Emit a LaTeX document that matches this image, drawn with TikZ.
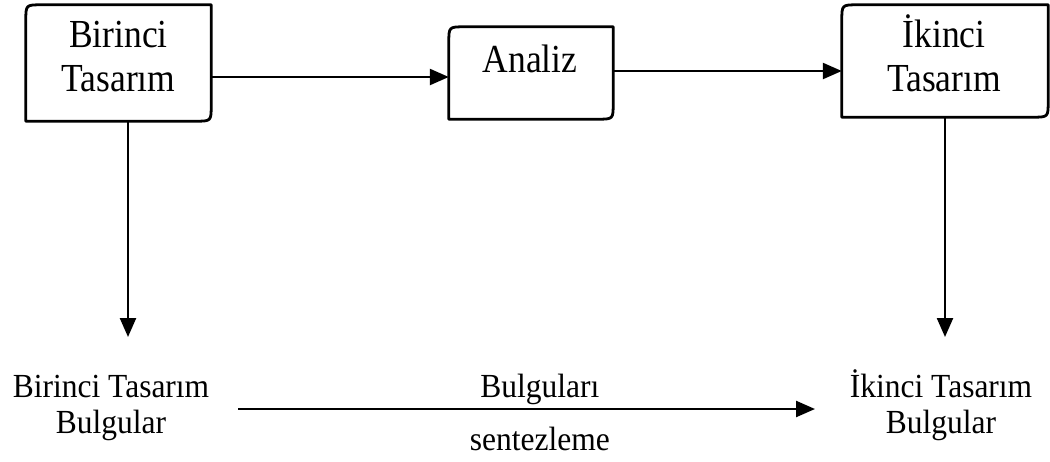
\documentclass[tikz,border=0pt]{standalone}
\usepackage{fontspec}
\usepackage{graphicx}
\setmainfont{Liberation Serif}
\usetikzlibrary{arrows.meta,calc}
\newcommand\cornerbox[1]{%
  \draw[boxline] ([yshift=-16pt]#1.north west) .. controls (#1.north west) .. ([xshift=16pt]#1.north west)
    -- (#1.north east) -- ([yshift=16pt]#1.south east) .. controls (#1.south east) .. ([xshift=-16pt]#1.south east)
    -- (#1.south west) -- cycle;}
\newcommand\tallA[1]{\scalebox{1}[1.12]{#1}}
\newcommand\tallB[1]{\scalebox{1}[1.07]{#1}}
\tikzset{
  boxbody/.style={rectangle, draw=none, inner sep=0pt},
  boxline/.style={line width=2.8pt, line join=round},
  toptext/.style={font=\fontsize{35.5}{44}\selectfont, align=center, inner sep=0pt, anchor=base},
  bottext/.style={font=\fontsize{31.5}{36}\selectfont, align=center, inner sep=0pt, anchor=base},
  arr/.style={line width=2.4pt, -{Triangle[length=19pt,width=16pt]}},
}
\begin{document}
\begin{tikzpicture}[x=1pt,y=-1pt]
\useasboundingbox[fill=white] (0,0) rectangle (1050,461);
% boxes
\node[boxbody, minimum width=185pt, minimum height=116pt] (b1) at (118.5,63) {};
\node[boxbody, minimum width=164pt, minimum height=92pt] (b2) at (531,73) {};
\node[boxbody, minimum width=206pt, minimum height=112pt] (b3) at (945,61) {};
\cornerbox{b1}
\cornerbox{b2}
\cornerbox{b3}
% texts (base = baseline of last line)
\node[toptext] (t1) at (118.5,91) {\tallA{Birinci}\\\tallA{Tasarım}};
\node[toptext] (t2) at (530,72) {\tallA{Analiz}};
\node[toptext] (t3) at (944,91) {\tallA{İkinci}\\\tallA{Tasarım}};
\node[bottext] (g1) at (111,433) {\tallB{Birinci Tasarım}\\\tallB{Bulgular}};
\node[bottext] (g2) at (941,433) {\tallB{İkinci Tasarım}\\\tallB{Bulgular}};
% connector endpoints
\coordinate (e1) at (128,337);
\coordinate (e3) at (945,337);
\coordinate (s) at (238,409);
\coordinate (e) at (815,409);
% connectors
\draw[arr] ([yshift=-14pt]b1.east) -- ([yshift=-14pt]b1.east -| b2.west);
\draw[arr] ([yshift=2pt]b2.east) -- ([yshift=2pt]b2.east -| b3.west);
\draw[arr] (b1.south -| e1) -- (e1);
\draw[arr] (b3.south -| e3) -- (e3);
\draw[arr] (s) -- (e)
  node[pos=0.523, bottext, yshift=12pt] (l1) {\tallB{Bulguları}}
  node[pos=0.523, bottext, yshift=-41pt] (l2) {\tallB{sentezleme}};
\end{tikzpicture}
\end{document}
